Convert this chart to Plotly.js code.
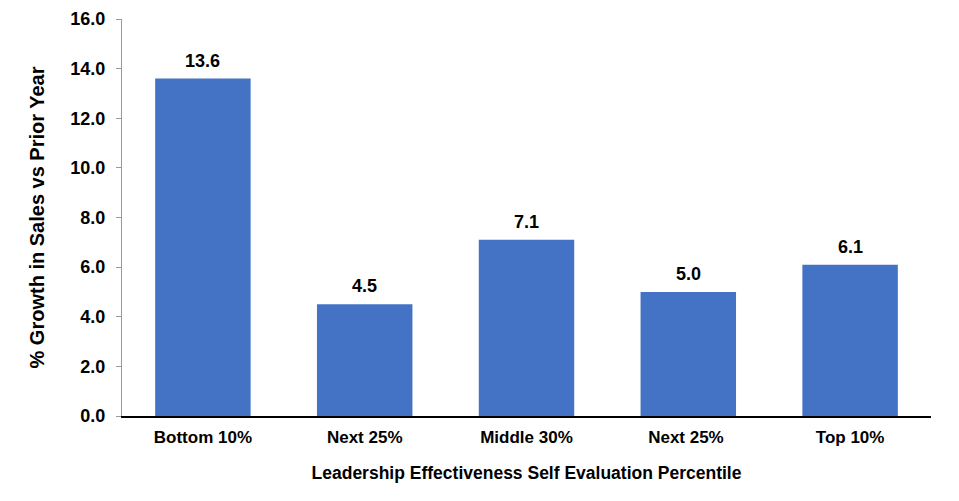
<!DOCTYPE html>
<html>
<head>
<meta charset="utf-8">
<script src="https://cdn.plot.ly/plotly-3.0.1.min.js"></script>
<style>html,body{margin:0;padding:0;background:#fff;}#chart{width:959px;height:501px;}</style>
</head>
<body>
<div id="chart"></div>
<script>
const categories = ["Bottom 10%", "Next 25%", "Middle 30%", "Next 25% ", "Top 10%"];
const values = [13.6, 4.5, 7.1, 5.0, 6.1];
const yTicks = [0, 2, 4, 6, 8, 10, 12, 14, 16];

const FONT = "Liberation Sans, Arial, Helvetica, sans-serif";

const trace = {
  type: "bar",
  x: categories,
  y: values,
  marker: {color: "#4472C4"},
  hoverinfo: "x+y"
};

const annotations = categories.map((c, i) => ({
  x: c, y: values[i], xref: "x", yref: "y",
  text: values[i].toFixed(1),
  showarrow: false, yanchor: "bottom", yshift: 6,
  font: {family: FONT, size: 18, color: "#000", weight: "bold"}
}));

const layout = {
  width: 959, height: 501,
  margin: {l: 122, r: 28, t: 19, b: 85},
  paper_bgcolor: "#fff", plot_bgcolor: "#fff",
  bargap: 0.41,
  showlegend: false,
  font: {family: FONT, color: "#000"},
  xaxis: {
    showline: true, linecolor: "#000", linewidth: 2,
    ticks: "", showgrid: false, zeroline: false,
    tickfont: {family: FONT, size: 17, color: "#000", weight: "bold"},
    ticklabelstandoff: 5,
    title: {text: "Leadership Effectiveness Self Evaluation Percentile",
            font: {family: FONT, size: 17.5, color: "#000", weight: "bold"}, standoff: 20}
  },
  yaxis: {
    range: [0, 16],
    tickvals: yTicks,
    ticktext: yTicks.map(v => v.toFixed(1)),
    showline: true, linecolor: "#999", linewidth: 1,
    ticks: "outside", ticklen: 5, tickcolor: "#999",
    ticklabelstandoff: 7,
    showgrid: false, zeroline: false,
    tickfont: {family: FONT, size: 18, color: "#000", weight: "bold"},
    title: {text: "% Growth in Sales vs Prior Year",
            font: {family: FONT, size: 20, color: "#000", weight: "bold"}, standoff: 20}
  },
  annotations: annotations
};

Plotly.newPlot("chart", [trace], layout, {displayModeBar: false, staticPlot: true});
</script>
</body>
</html>
